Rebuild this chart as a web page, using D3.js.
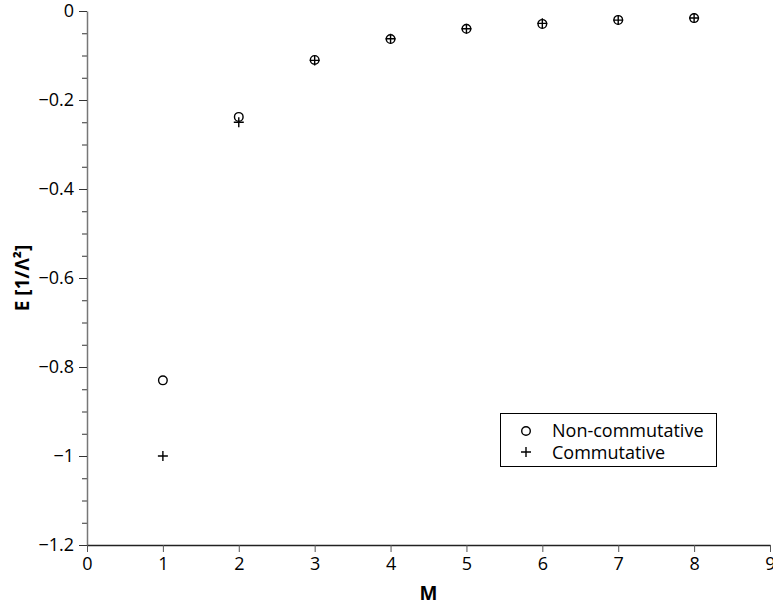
<!DOCTYPE html>
<html>
<head>
<meta charset="utf-8">
<script src="https://cdn.jsdelivr.net/npm/d3@7"></script>
<style>
  body { margin: 0; background: #fff; }
  text { font-family: "Open Sans", sans-serif; }
</style>
</head>
<body>
<svg id="svg1" width="773" height="608"></svg>
<script>
const mValues = [1, 2, 3, 4, 5, 6, 7, 8];
const nonCommutative = [-0.83, -0.238, -0.110, -0.063, -0.040, -0.029, -0.020, -0.016];
const commutative = [-1.0, -0.25, -0.111, -0.0625, -0.04, -0.0278, -0.0204, -0.0156];
const xTicks = [0, 1, 2, 3, 4, 5, 6, 7, 8, 9];
const yTicks = [0, -0.2, -0.4, -0.6, -0.8, -1, -1.2];
const legendLabels = ["Non-commutative", "Commutative"];

const svg = d3.select("#svg1");

const x = d3.scaleLinear().domain([0, 9]).range([87, 770]);
const y = d3.scaleLinear().domain([-1.2, 0]).range([545, 11]);

const fmt = d => (d === 0 ? "0" : String(d).replace("-", "\u2212"));

// y axis with minor ticks
const yMinor = d3.range(-1.2, 0.0001, 0.05).map(v => +v.toFixed(2));
svg.append("g")
    .attr("transform", "translate(" + x(0) + ",0)")
    .call(d3.axisLeft(y).tickValues(yMinor).tickSize(5).tickFormat(""))
    .call(g => g.select(".domain").remove())
    .call(g => g.selectAll("line").attr("stroke", "#333"));

const yAxis = svg.append("g")
    .attr("transform", "translate(" + x(0) + ",0)")
    .call(d3.axisLeft(y).tickValues(yTicks).tickSize(8).tickSizeOuter(0).tickPadding(5).tickFormat(fmt));
yAxis.select(".domain").attr("stroke", "#777").attr("stroke-width", 1.5);
yAxis.selectAll("line").attr("stroke", "#333");
yAxis.selectAll("text").attr("font-size", 18).attr("fill", "#000");

const xAxis = svg.append("g")
    .attr("transform", "translate(0," + y(-1.2) + ")")
    .call(d3.axisBottom(x).tickValues(xTicks).tickSize(7).tickSizeOuter(0).tickPadding(5).tickFormat(d3.format("d")));
xAxis.select(".domain").attr("stroke", "#222").attr("stroke-width", 1.3);
xAxis.selectAll("line").attr("stroke", "#555");
xAxis.selectAll("text").attr("font-size", 18).attr("fill", "#000");

// axis titles
svg.append("text")
    .attr("x", (x(0) + x(9)) / 2)
    .attr("y", 600)
    .attr("text-anchor", "middle")
    .attr("font-size", 19)
    .attr("font-weight", "bold")
    .text("M");

svg.append("text")
    .attr("transform", "translate(29," + (y(-0.6)) + ") rotate(-90)")
    .attr("text-anchor", "middle")
    .attr("font-size", 19)
    .attr("font-weight", "bold")
    .text("E [1/Λ²]");

// markers
const plus = (g, cx, cy) => {
    g.append("path")
        .attr("d", "M" + (cx - 5) + "," + cy + "H" + (cx + 5) + "M" + cx + "," + (cy - 5) + "V" + (cy + 5))
        .attr("stroke", "#000")
        .attr("stroke-width", 1.4)
        .attr("fill", "none");
};

const pts = svg.append("g");
mValues.forEach((m, i) => {
    pts.append("circle")
        .attr("cx", x(m))
        .attr("cy", y(nonCommutative[i]))
        .attr("r", 4.3)
        .attr("fill", "none")
        .attr("stroke", "#000")
        .attr("stroke-width", 1.4);
    plus(pts, x(m), y(commutative[i]));
});

// legend
const legend = svg.append("g");
legend.append("rect")
    .attr("x", 500.5).attr("y", 413.5)
    .attr("width", 216).attr("height", 53)
    .attr("fill", "#fff").attr("stroke", "#000").attr("stroke-width", 1);
legend.append("circle")
    .attr("cx", 526).attr("cy", 431).attr("r", 4.3)
    .attr("fill", "none").attr("stroke", "#000").attr("stroke-width", 1.4);
plus(legend, 526, 452);
legendLabels.forEach((t, i) => {
    legend.append("text")
        .attr("x", 552)
        .attr("y", 437 + i * 22)
        .attr("font-size", 18)
        .text(t);
});
</script>
</body>
</html>
